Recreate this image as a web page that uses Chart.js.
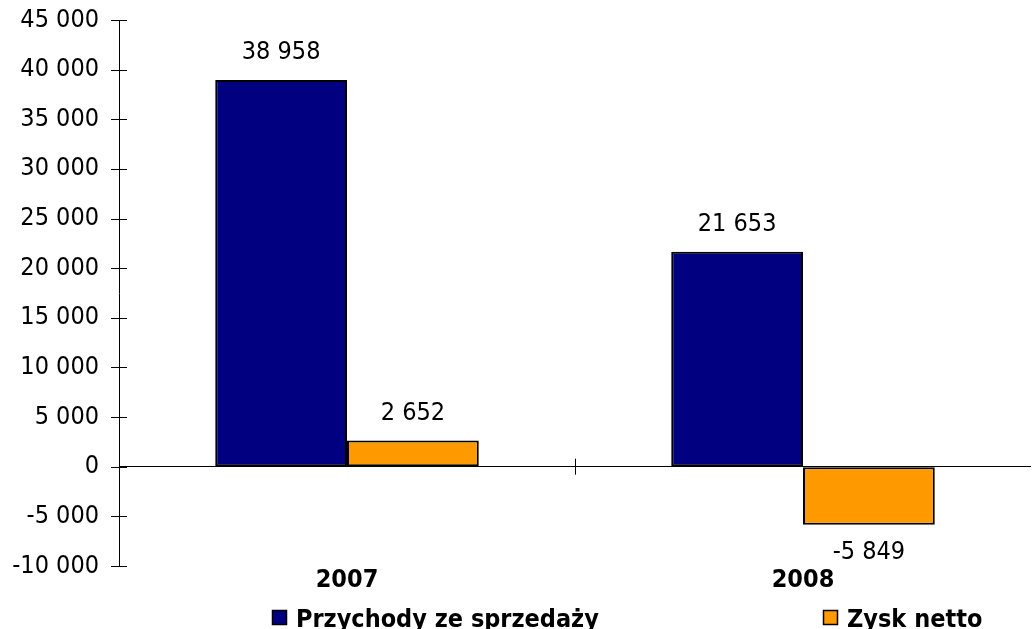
<!DOCTYPE html>
<html>
<head>
<meta charset="utf-8">
<script src="https://cdn.jsdelivr.net/npm/chart.js@4/dist/chart.umd.min.js"></script>
<style>
  body { margin: 0; background: #fff; }
  #wrap { width: 1035px; height: 629px; }
</style>
</head>
<body>
<div id="wrap"><canvas id="finChart" width="1035" height="629"></canvas></div>
<script>
const years = ['2007', '2008'];
const revenue = [38958, 21653];   // Przychody ze sprzedaży
const netProfit = [2652, -5849];  // Zysk netto
const yMin = -10000;
const yMax = 45000;
const yStep = 5000;

const FONT = '"DejaVu Sans Condensed", "DejaVu Sans", sans-serif';

function fmt(v) {
    return String(v).replace(/\B(?=(\d{3})+(?!\d))/g, ' ');
}

// ticks crossing the y axis, and the category divider on the zero line
const axisMarks = {
    id: 'axisMarks',
    afterDraw(chart) {
        const ctx = chart.ctx;
        const y = chart.scales.y;
        const x = chart.scales.x;
        const left = chart.chartArea.left;
        ctx.save();
        ctx.strokeStyle = '#000';
        ctx.lineWidth = 1;
        y.ticks.forEach(t => {
            const py = Math.round(y.getPixelForValue(t.value)) + 0.5;
            ctx.beginPath();
            ctx.moveTo(left - 8, py);
            ctx.lineTo(left + 8, py);
            ctx.stroke();
        });
        const zy = y.getPixelForValue(0);
        for (let i = 0; i < years.length - 1; i++) {
            const px = Math.round(x.getPixelForValue(i + 0.5)) + 0.5;
            ctx.beginPath();
            ctx.moveTo(px, zy - 8);
            ctx.lineTo(px, zy + 8);
            ctx.stroke();
        }
        ctx.restore();
    }
};

// value labels above / below bars
const valueLabels = {
    id: 'valueLabels',
    afterDatasetsDraw(chart) {
        const ctx = chart.ctx;
        ctx.save();
        ctx.font = '25px ' + FONT;
        ctx.fillStyle = '#000';
        ctx.textAlign = 'center';
        ctx.textBaseline = 'middle';
        chart.data.datasets.forEach((ds, di) => {
            chart.getDatasetMeta(di).data.forEach((bar, i) => {
                const v = ds.data[i];
                const ly = v >= 0 ? bar.y - 27 : bar.y + 28;
                ctx.fillText(fmt(v), bar.x, ly);
            });
        });
        ctx.restore();
    }
};

// legend spread along the bottom like the original
const bottomLegend = {
    id: 'bottomLegend',
    afterDraw(chart) {
        const ctx = chart.ctx;
        const spots = [272, 823];
        ctx.save();
        ctx.font = 'bold 25px ' + FONT;
        ctx.textBaseline = 'alphabetic';
        ctx.textAlign = 'left';
        chart.data.datasets.forEach((ds, i) => {
            const bx = spots[i];
            ctx.fillStyle = ds.backgroundColor;
            ctx.fillRect(bx, 610, 14, 14);
            ctx.strokeStyle = '#000';
            ctx.lineWidth = 1.5;
            ctx.strokeRect(bx + 0.5, 610.5, 14, 14);
            ctx.fillStyle = '#000';
            ctx.fillText(ds.label, bx + 24, 627);
        });
        ctx.restore();
    }
};

new Chart(document.getElementById('finChart'), {
    type: 'bar',
    data: {
        labels: years,
        datasets: [
            {
                label: 'Przychody ze sprzedaży',
                data: revenue,
                backgroundColor: '#000080',
                borderColor: '#000',
                borderWidth: 2,
                borderSkipped: false
            },
            {
                label: 'Zysk netto',
                data: netProfit,
                backgroundColor: '#FF9900',
                borderColor: '#000',
                borderWidth: 2,
                borderSkipped: false
            }
        ]
    },
    options: {
        responsive: false,
        animation: false,
        layout: { padding: { top: 20, right: 4, bottom: 33, left: 0 } },
        datasets: { bar: { barPercentage: 1, categoryPercentage: 0.578 } },
        plugins: {
            legend: { display: false },
            tooltip: { enabled: false }
        },
        scales: {
            x: {
                grid: { display: false },
                border: { display: false },
                ticks: {
                    color: '#000',
                    padding: -9,
                    font: { family: FONT, size: 25, weight: 'bold' }
                },
                afterFit(scale) { scale.height = 30; }
            },
            y: {
                min: yMin,
                max: yMax,
                border: { color: '#000', width: 1 },
                grid: {
                    drawTicks: false,
                    color: c => (c.tick && c.tick.value === 0 ? '#000' : 'rgba(0,0,0,0)'),
                    lineWidth: 1
                },
                ticks: {
                    stepSize: yStep,
                    padding: 20,
                    color: '#000',
                    font: { family: FONT, size: 25 },
                    callback: v => fmt(v)
                },
                afterFit(scale) {
                    scale.width = 119;
                    scale.paddingTop = 0;
                    scale.paddingBottom = 0;
                }
            }
        }
    },
    plugins: [axisMarks, valueLabels, bottomLegend]
});
</script>
</body>
</html>
